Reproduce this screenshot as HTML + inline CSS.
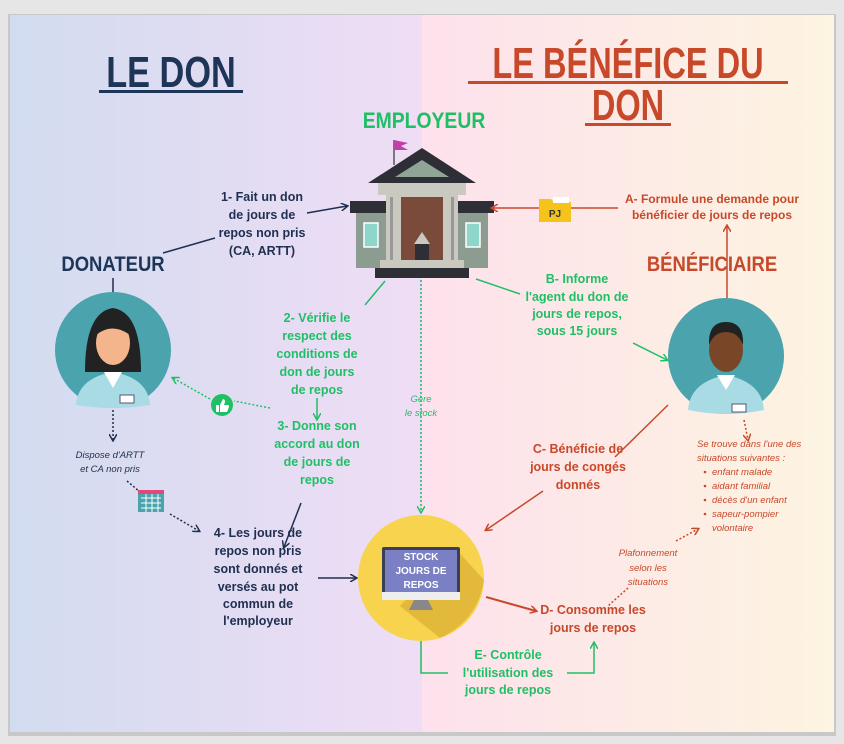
<!DOCTYPE html>
<html><head><meta charset="utf-8"><style>
html,body{margin:0;padding:0;background:#fff;}
svg{display:block;font-family:"Liberation Sans",sans-serif;}
.n{fill:#1f2f4f;font-weight:bold;font-size:12.5px;}
.g{fill:#1fbf66;font-weight:bold;font-size:12.5px;}
.o{fill:#c8482a;font-weight:bold;font-size:12.5px;}
.it{font-style:italic;font-size:9.5px;}
</style></head><body>
<svg width="844" height="744" viewBox="0 0 844 744">
<defs>
<linearGradient id="lg" x1="0" x2="1"><stop offset="0" stop-color="#d2dcf0"/><stop offset="1" stop-color="#efddf5"/></linearGradient>
<linearGradient id="rg" x1="0" x2="1"><stop offset="0" stop-color="#fde1ec"/><stop offset="1" stop-color="#fdf4e1"/></linearGradient>
<marker id="an" markerWidth="8" markerHeight="8" refX="6" refY="4" orient="auto" markerUnits="userSpaceOnUse"><path d="M0,0 L7,4 L0,8" fill="none" stroke="#1f2f4f" stroke-width="1.5"/></marker>
<marker id="ag" markerWidth="8" markerHeight="8" refX="6" refY="4" orient="auto" markerUnits="userSpaceOnUse"><path d="M0,0 L7,4 L0,8" fill="none" stroke="#1fbf66" stroke-width="1.5"/></marker>
<marker id="ao" markerWidth="8" markerHeight="8" refX="6" refY="4" orient="auto" markerUnits="userSpaceOnUse"><path d="M0,0 L7,4 L0,8" fill="none" stroke="#c8482a" stroke-width="1.5"/></marker>
</defs>
<rect x="0" y="0" width="844" height="744" fill="#e6e6e6"/>
<rect x="8" y="14" width="828" height="722" fill="#c8c8c8"/>
<rect x="10" y="15" width="412" height="717" fill="url(#lg)"/>
<rect x="422" y="15" width="412" height="717" fill="url(#rg)"/>

<!-- titles -->
<text x="171" y="87" text-anchor="middle" font-size="44" font-weight="bold" fill="#1d3557" transform="translate(171 0) scale(0.78 1) translate(-171 0)">LE DON</text>
<rect x="99" y="90" width="144" height="3" fill="#1d3557"/>
<text x="628" y="78" text-anchor="middle" font-size="44" font-weight="bold" fill="#c8482a" transform="translate(628 0) scale(0.74 1) translate(-628 0)">LE BÉNÉFICE DU</text>
<rect x="468" y="81" width="320" height="3" fill="#c8482a"/>
<text x="628" y="120" text-anchor="middle" font-size="44" font-weight="bold" fill="#c8482a" transform="translate(628 0) scale(0.74 1) translate(-628 0)">DON</text>
<rect x="585" y="123" width="86" height="3" fill="#c8482a"/>
<text x="424" y="128" text-anchor="middle" font-size="22" font-weight="bold" fill="#1fbf66" transform="translate(424 0) scale(0.88 1) translate(-424 0)">EMPLOYEUR</text>

<!-- building -->
<line x1="394" y1="140" x2="394" y2="165" stroke="#555" stroke-width="1.5"/>
<path d="M394,140 L408,143 L401,146 L408,150 L394,150Z" fill="#c03fa8"/>
<path d="M422,148 L368,183 L476,183Z" fill="#2e2e36"/>
<path d="M422,160 L395,177 L449,177Z" fill="#8fa596"/>
<rect x="378" y="183" width="88" height="12" fill="#c9c9c0"/>
<rect x="350" y="201" width="144" height="12" fill="#2e2e36"/>
<rect x="356" y="213" width="132" height="55" fill="#8c9c90"/>
<rect x="386" y="195" width="72" height="73" fill="#c9c9c0"/>
<rect x="401" y="197" width="42" height="71" fill="#7a4a3a"/>
<rect x="390" y="197" width="3" height="70" fill="#999"/><rect x="451" y="197" width="3" height="70" fill="#999"/>
<path d="M422,232 L414,244 L430,244Z" fill="#c9c9c0"/>
<rect x="415" y="244" width="14" height="24" fill="#2e2e36"/>
<rect x="364" y="223" width="14" height="24" fill="#8ed6c9" stroke="#fff" stroke-width="1.5"/>
<rect x="466" y="223" width="14" height="24" fill="#8ed6c9" stroke="#fff" stroke-width="1.5"/>
<rect x="380" y="260" width="84" height="8" fill="#c9c9c0"/>
<rect x="375" y="268" width="94" height="10" fill="#2e2e36"/>

<!-- 1 text -->
<g class="n" text-anchor="middle"><text x="262" y="201">1- Fait un don</text><text x="262" y="219">de jours de</text><text x="262" y="237">repos non pris</text><text x="262" y="255">(CA, ARTT)</text></g>
<line x1="307" y1="213" x2="347" y2="206" stroke="#1f2f4f" stroke-width="1.5" marker-end="url(#an)"/>
<line x1="215" y1="238" x2="163" y2="253" stroke="#1f2f4f" stroke-width="1.5"/>
<text x="113" y="271" text-anchor="middle" font-size="21" font-weight="bold" fill="#1d3557" transform="translate(113 0) scale(0.88 1) translate(-113 0)">DONATEUR</text>
<line x1="113" y1="278" x2="113" y2="292" stroke="#1f2f4f" stroke-width="1.5"/>

<!-- donateur -->
<circle cx="113" cy="350" r="58" fill="#4aa3ad"/>
<path d="M85,372 Q85,312 113,308 Q141,312 141,372Z" fill="#222"/>
<ellipse cx="113" cy="343" rx="17" ry="22" fill="#f4b48c"/>
<path d="M96,335 Q100,312 122,318 Q130,325 130,335 Q112,322 96,335Z" fill="#222"/>
<path d="M76,405 Q78,378 113,372 Q148,378 150,405 Q132,408 113,408 Q94,408 76,405Z" fill="#a8dbe4"/>
<path d="M104,372 L113,388 L122,372Z" fill="#fff"/>
<rect x="120" y="395" width="14" height="8" fill="#fff" stroke="#557" stroke-width="1"/>

<!-- beneficiary -->
<text x="712" y="271" text-anchor="middle" font-size="21" font-weight="bold" fill="#c8482a" transform="translate(712 0) scale(0.88 1) translate(-712 0)">BÉNÉFICIAIRE</text>
<g class="o" text-anchor="middle" font-size="12"><text x="712" y="203" style="font-size:12px">A- Formule une demande pour</text><text x="712" y="219" style="font-size:12px">bénéficier de jours de repos</text></g>
<line x1="727" y1="298" x2="727" y2="226" stroke="#c8482a" stroke-width="1.5" marker-end="url(#ao)"/>
<line x1="618" y1="208" x2="492" y2="208" stroke="#c8482a" stroke-width="1.5" marker-end="url(#ao)"/>
<path d="M539,199 L551,199 L554,202 L571,202 L571,222 L539,222Z" fill="#f6c21c"/>
<rect x="553" y="197" width="16" height="6" fill="#fff"/>
<text x="555" y="217" text-anchor="middle" font-size="10" font-weight="bold" fill="#333">PJ</text>
<circle cx="726" cy="356" r="58" fill="#4aa3ad"/>
<ellipse cx="726" cy="350" rx="17" ry="22" fill="#7a4628"/>
<path d="M709,345 Q708,322 726,322 Q744,322 743,345 Q738,332 726,332 Q714,332 709,345Z" fill="#222"/>
<path d="M688,410 Q690,382 726,375 Q762,382 764,410 Q744,414 726,414 Q708,414 688,410Z" fill="#a8dbe4"/>
<path d="M717,375 L726,390 L735,375Z" fill="#fff"/>
<rect x="732" y="404" width="14" height="8" fill="#fff" stroke="#557" stroke-width="1"/>

<!-- green B -->
<line x1="476" y1="279" x2="520" y2="294" stroke="#1fbf66" stroke-width="1.5"/>
<g class="g" text-anchor="middle"><text x="577" y="283">B-  Informe</text><text x="577" y="301">l'agent du don de</text><text x="577" y="318">jours de repos,</text><text x="577" y="335">sous 15 jours</text></g>
<line x1="633" y1="343" x2="667" y2="360" stroke="#1fbf66" stroke-width="1.5" marker-end="url(#ag)"/>

<!-- green 2/3 -->
<line x1="385" y1="281" x2="365" y2="305" stroke="#1fbf66" stroke-width="1.5"/>
<g class="g" text-anchor="middle"><text x="317" y="322">2- Vérifie le</text><text x="317" y="340">respect des</text><text x="317" y="358">conditions de</text><text x="317" y="376">don de jours</text><text x="317" y="394">de repos</text></g>
<line x1="317" y1="398" x2="317" y2="419" stroke="#1fbf66" stroke-width="1.5" marker-end="url(#ag)"/>
<g class="g" text-anchor="middle"><text x="317" y="430">3- Donne son</text><text x="317" y="448">accord au don</text><text x="317" y="466">de jours de</text><text x="317" y="484">repos</text></g>
<circle cx="222" cy="405" r="11" fill="#1fbf66"/>
<path d="M216,405 h3 v7 h-3z M220,405 l3,-6 q2,0 2,3 l-1,3 h4 q1,0 1,2 l-2,5 h-7z" fill="#fff"/>
<line x1="270" y1="408" x2="234" y2="401" stroke="#1fbf66" stroke-width="1.5" stroke-dasharray="2,2"/>
<line x1="210" y1="399" x2="173" y2="378" stroke="#1fbf66" stroke-width="1.5" stroke-dasharray="2,2" marker-end="url(#ag)"/>

<!-- donor left dotted -->
<line x1="113" y1="410" x2="113" y2="440" stroke="#1f2f4f" stroke-width="1.5" stroke-dasharray="2,2" marker-end="url(#an)"/>
<g fill="#1f2f4f" text-anchor="middle" class="it"><text x="110" y="458">Dispose d'ARTT</text><text x="110" y="472">et CA non pris</text></g>
<line x1="127" y1="481" x2="140" y2="492" stroke="#1f2f4f" stroke-width="1.5" stroke-dasharray="2,2"/>
<rect x="138" y="492" width="26" height="20" fill="#4aa3ad"/>
<rect x="138" y="490" width="26" height="4" fill="#e04a7a"/>
<path d="M141,498h20M141,503h20M141,508h20M146,494v18M152,494v18M158,494v18" stroke="#fff" stroke-width="1"/>
<line x1="170" y1="514" x2="199" y2="531" stroke="#1f2f4f" stroke-width="1.5" stroke-dasharray="2,2" marker-end="url(#an)"/>

<!-- 4 -->
<line x1="301" y1="503" x2="284" y2="547" stroke="#1f2f4f" stroke-width="1.5" marker-end="url(#an)"/>
<g class="n" text-anchor="middle"><text x="258" y="537">4- Les jours de</text><text x="258" y="555">repos non pris</text><text x="258" y="573">sont donnés et</text><text x="258" y="591">versés au pot</text><text x="258" y="608">commun de</text><text x="258" y="625">l'employeur</text></g>
<line x1="318" y1="578" x2="356" y2="578" stroke="#1f2f4f" stroke-width="1.5" marker-end="url(#an)"/>

<!-- gere le stock -->
<line x1="421" y1="280" x2="421" y2="512" stroke="#1fbf66" stroke-width="1.5" stroke-dasharray="2,2" marker-end="url(#ag)"/>
<g fill="#1fbf66" text-anchor="middle" class="it"><text x="421" y="402">Gère</text><text x="421" y="416">le stock</text></g>

<!-- stock -->
<circle cx="421" cy="578" r="63" fill="#f8d34e"/>
<path d="M455,548 L484,580 Q478,620 440,638 L400,606Z" fill="#e3b93c"/>
<rect x="382" y="547" width="78" height="52" rx="2" fill="#3a3f55"/>
<rect x="385" y="550" width="72" height="42" fill="#7b7fc4"/>
<rect x="382" y="592" width="78" height="8" fill="#eee"/>
<path d="M414,600 L428,600 L433,610 L409,610Z" fill="#888"/>
<g fill="#fff" font-size="10" font-weight="bold" text-anchor="middle"><text x="421" y="560">STOCK</text><text x="421" y="574">JOURS DE</text><text x="421" y="588">REPOS</text></g>

<!-- C -->
<line x1="668" y1="405" x2="615" y2="457" stroke="#c8482a" stroke-width="1.5"/>
<g class="o" text-anchor="middle"><text x="578" y="453">C- Bénéficie de</text><text x="578" y="471">jours de congés</text><text x="578" y="489">donnés</text></g>
<line x1="543" y1="491" x2="486" y2="530" stroke="#c8482a" stroke-width="1.5" marker-end="url(#ao)"/>

<!-- situations -->
<line x1="744" y1="420" x2="748" y2="440" stroke="#c8482a" stroke-width="1.5" stroke-dasharray="2,2" marker-end="url(#ao)"/>
<g fill="#c8482a" class="it"><text x="697" y="447">Se trouve dans l'une des</text><text x="697" y="461">situations suivantes :</text>
<text x="712" y="475">enfant malade</text><text x="712" y="489">aidant familial</text><text x="712" y="503">décès d'un enfant</text><text x="712" y="517">sapeur-pompier</text><text x="712" y="531">volontaire</text></g>
<g fill="#c8482a"><circle cx="705" cy="472" r="1.3"/><circle cx="705" cy="486" r="1.3"/><circle cx="705" cy="500" r="1.3"/><circle cx="705" cy="514" r="1.3"/></g>
<g fill="#c8482a" text-anchor="middle" class="it"><text x="648" y="556">Plafonnement</text><text x="648" y="571">selon les</text><text x="648" y="585">situations</text></g>
<line x1="676" y1="541" x2="698" y2="529" stroke="#c8482a" stroke-width="1.5" stroke-dasharray="2,2" marker-end="url(#ao)"/>
<line x1="628" y1="588" x2="608" y2="606" stroke="#c8482a" stroke-width="1.5" stroke-dasharray="2,2"/>

<!-- D -->
<line x1="486" y1="597" x2="536" y2="611" stroke="#c8482a" stroke-width="2" marker-end="url(#ao)"/>
<g class="o" text-anchor="middle"><text x="593" y="614">D- Consomme les</text><text x="593" y="632">jours de repos</text></g>

<!-- E -->
<path d="M421,641 L421,673 L448,673" fill="none" stroke="#1fbf66" stroke-width="1.5"/>
<path d="M567,673 L594,673 L594,643" fill="none" stroke="#1fbf66" stroke-width="1.5" marker-end="url(#ag)"/>
<g class="g" text-anchor="middle"><text x="508" y="659">E- Contrôle</text><text x="508" y="677">l'utilisation des</text><text x="508" y="694">jours de repos</text></g>
</svg>
</body></html>
